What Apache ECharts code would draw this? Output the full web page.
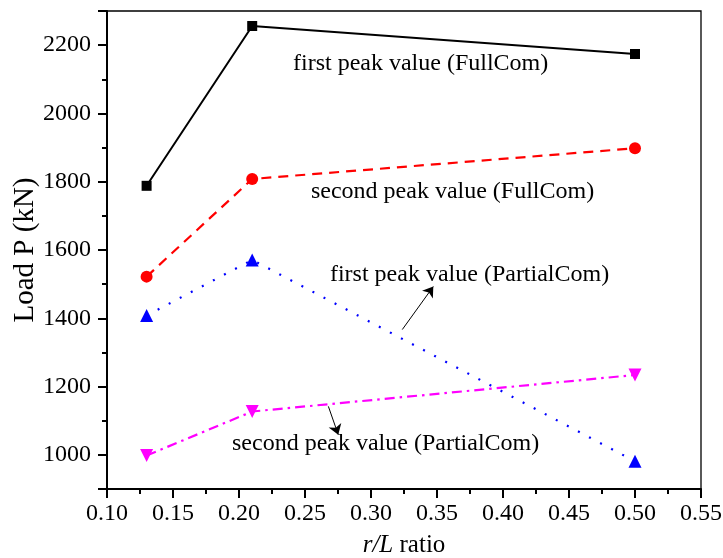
<!DOCTYPE html>
<html>
<head>
<meta charset="utf-8">
<script src="https://cdn.jsdelivr.net/npm/echarts@6/dist/echarts.min.js"></script>
<style>html,body{margin:0;padding:0;background:#fff;}#c{width:723px;height:558px;}</style>
</head>
<body>
<div id="c"></div>
<script>
const ratios = [0.13, 0.21, 0.50];
const firstFull = [1788, 2256, 2174];
const secondFull = [1522, 1808, 1898];
const firstPartial = [1408, 1571, 981];
const secondPartial = [998, 1127, 1234];
const seriesNames = ['first peak value (FullCom)', 'second peak value (FullCom)', 'first peak value (PartialCom)', 'second peak value (PartialCom)'];
const labelAnchors = [[0.2409, 2145], [0.2545, 1770], [0.2689, 1528], [0.1947, 1033]];
const arrowPartialFirst = [[0.3237, 1367], [0.3472, 1493]];
const arrowPartialSecond = [[0.2677, 1142], [0.2752, 1059]];

const FONT = '"Liberation Serif", "DejaVu Serif", serif';
const pairs = arr => ratios.map((r, i) => [r, arr[i]]);

function annot(i, arrow) {
  const o = {
    markPoint: {
      silent: true, symbol: 'circle', symbolSize: 0,
      label: { show: true, position: 'right', distance: 0, color: '#000', fontFamily: FONT, fontSize: 24, formatter: seriesNames[i] },
      data: [{ coord: labelAnchors[i] }]
    }
  };
  if (arrow) {
    o.markLine = {
      silent: true, symbol: ['none', 'arrow'], symbolSize: 10,
      lineStyle: { color: '#000', width: 1, type: 'solid' },
      itemStyle: { color: '#000' },
      label: { show: false },
      data: [[{ coord: arrow[0] }, { coord: arrow[1] }]]
    };
  }
  return o;
}

const chart = echarts.init(document.getElementById('c'), null, { renderer: 'canvas' });
chart.setOption({
  animation: false,
  backgroundColor: '#fff',
  grid: { left: 107, right: 22, top: 11, bottom: 69, containLabel: false, outerBoundsMode: 'none',
    show: true, borderColor: '#000', borderWidth: 1.3, backgroundColor: 'transparent' },
  xAxis: {
    type: 'value', min: 0.10, max: 0.55, interval: 0.05,
    name: '{i|r/L} ratio', nameLocation: 'middle', nameGap: 44, nameMoveOverlap: false,
    nameTextStyle: { fontFamily: FONT, fontSize: 25, color: '#000', rich: { i: { fontFamily: FONT, fontSize: 25, fontStyle: 'italic', color: '#000' } } },
    axisLine: { show: true, lineStyle: { color: '#000', width: 2 } },
    axisTick: { show: true, inside: false, length: 9, lineStyle: { color: '#000', width: 2 } },
    minorTick: { show: true, splitNumber: 2, length: 5, lineStyle: { color: '#000', width: 2 } },
    splitLine: { show: false },
    axisLabel: { color: '#000', fontFamily: FONT, fontSize: 24, margin: 13, formatter: v => v.toFixed(2) }
  },
  yAxis: {
    type: 'value', min: 900, max: 2300, splitNumber: 7,
    name: 'Load P (kN)', nameLocation: 'middle', nameGap: 67, nameMoveOverlap: false,
    nameTextStyle: { fontFamily: FONT, fontSize: 29, color: '#000' },
    axisLine: { show: true, lineStyle: { color: '#000', width: 2 } },
    axisTick: { show: true, inside: false, length: 9, lineStyle: { color: '#000', width: 2 } },
    minorTick: { show: true, splitNumber: 2, length: 5, lineStyle: { color: '#000', width: 2 } },
    splitLine: { show: false },
    axisLabel: { color: '#000', fontFamily: FONT, fontSize: 24, margin: 16, showMinLabel: false, showMaxLabel: false,
      formatter: v => (v % 200 === 0 ? String(v) : '') }
  },
  series: [
    Object.assign({ name: seriesNames[0], type: 'line', data: pairs(firstFull), symbol: 'rect', symbolSize: 10,
      itemStyle: { color: '#000' }, lineStyle: { color: '#000', width: 2, type: 'solid' } }, annot(0)),
    Object.assign({ name: seriesNames[1], type: 'line', data: pairs(secondFull), symbol: 'circle', symbolSize: 12,
      itemStyle: { color: '#ff0000' }, lineStyle: { color: '#ff0000', width: 2.2, type: [10, 7] } }, annot(1)),
    Object.assign({ name: seriesNames[2], type: 'line', data: pairs(firstPartial), symbol: 'triangle', symbolSize: 13,
      itemStyle: { color: '#0000ff' }, lineStyle: { color: '#0000ff', width: 2.2, type: [2, 10.5] } }, annot(2, arrowPartialFirst)),
    Object.assign({ name: seriesNames[3], type: 'line', data: pairs(secondPartial), symbol: 'triangle', symbolRotate: 180, symbolSize: 13,
      itemStyle: { color: '#ff00ff' }, lineStyle: { color: '#ff00ff', width: 2.2, type: [10, 5, 2.5, 5] } }, annot(3, arrowPartialSecond))
  ]
});
</script>
</body>
</html>
